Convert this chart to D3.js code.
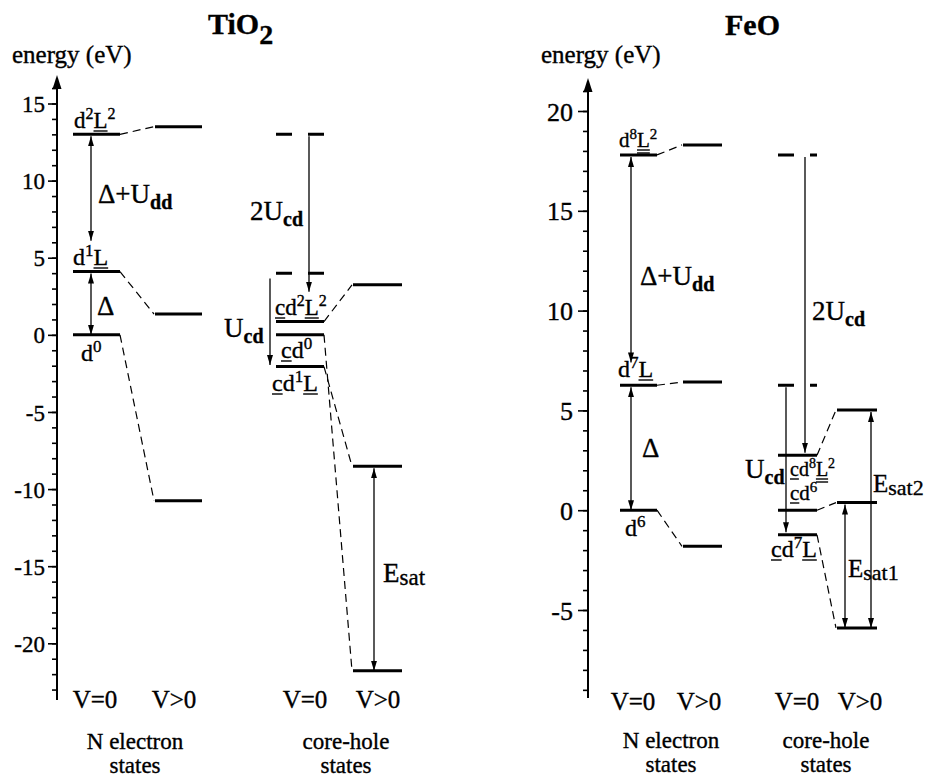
<!DOCTYPE html>
<html>
<head>
<meta charset="utf-8">
<script src="https://cdn.jsdelivr.net/npm/d3@7"></script>
<style>
  body { margin: 0; background: #fff; }
  svg { display: block; }
  text { font-family: "Liberation Serif", "Tinos", "DejaVu Serif", "Noto Serif", serif; fill: #000; stroke: #000; stroke-width: 0.35px; }
</style>
</head>
<body>
<svg id="chart" width="926" height="777"></svg>
<script>
// ---------- TiO2 (energies in eV) ----------
const tiMajorTicks = [-20, -15, -10, -5, 0, 5, 10, 15];
const tiMinorTicks = d3.range(-23, 17);
const tiNeutralV0 = [0, 4.1, 13.0];          // d0, d1L, d2L2
const tiNeutralV  = [-10.75, 1.35, 13.5];    // mixed states, same order
const tiCoreRef   = [4.0, 13.0];             // unhybridised reference levels (dashed)
const tiCoreV0    = [-2.06, 0, 0.86];        // cd1L, cd0, cd2L2
const tiCoreV     = [-8.52, -21.78, 3.24];   // mixed core-hole states, same order
const tiArrowFrom = [13.0, 4.1, 13.0, 3.78, -8.52];
const tiArrowTo   = [6.1, 0, 2.8, -1.95, -21.78];

// ---------- FeO (energies in eV) ----------
const feMajorTicks = [-5, 0, 5, 10, 15, 20];
const feMinorTicks = d3.range(-9, 22);
const feNeutralV0 = [0, 6.26, 17.8];         // d6, d7L, d8L2
const feNeutralV  = [-1.81, 6.42, 18.3];
const feCoreRef   = [6.26, 17.8];
const feCoreV0    = [-1.23, 0, 2.75];        // cd7L, cd6, cd8L2
const feCoreV     = [-5.9, 0.38, 5.02];
const feArrowFrom = [17.8, 6.26, 17.8, 6.26, 0.38, 5.02];
const feArrowTo   = [7.4, 0, 2.88, -1.1, -5.9, -5.9];

const columnLabels = ["V=0", "V>0", "V=0", "V>0"];
const groupLabels = [["N electron", "states"], ["core-hole", "states"]];

const SERIF = "'Liberation Serif', 'Tinos', 'DejaVu Serif', 'Noto Serif', serif";

const svg = d3.select("#chart");
const defs = svg.append("defs");
defs.append("marker")
  .attr("id", "head")
  .attr("viewBox", "0 0 10 6")
  .attr("refX", 10).attr("refY", 3)
  .attr("markerWidth", 10).attr("markerHeight", 6)
  .attr("markerUnits", "userSpaceOnUse")
  .attr("orient", "auto-start-reverse")
  .append("path").attr("d", "M0,0L10,3L0,6Z").attr("fill", "#000");

// Text made of runs; each run may be raised/lowered, bold, and underlined once or twice.
function richText(g, x, y, runs, anchor) {
  const t = g.append("text").attr("x", x).attr("y", y)
    .attr("text-anchor", anchor || "start")
    .style("font-family", SERIF);
  let prevShift = 0;
  runs.forEach(r => {
    const shift = r.shift || 0;
    const ts = t.append("tspan").text(r.t).style("font-size", r.size + "px");
    if (r.bold) ts.style("font-weight", "bold");
    if (shift !== prevShift) ts.attr("dy", shift - prevShift);
    prevShift = shift;
  });
  const node = t.node();
  let idx = 0;
  runs.forEach(r => {
    const n = r.t.length;
    if (r.u) {
      const x0 = node.getStartPositionOfChar(idx).x;
      const x1 = node.getEndPositionOfChar(idx + n - 1).x;
      for (let k = 0; k < r.u; k++) {
        g.append("line")
          .attr("x1", x0).attr("x2", x1)
          .attr("y1", y + 3 + k * 3).attr("y2", y + 3 + k * 3)
          .attr("stroke", "#000").attr("stroke-width", 1.4);
      }
    }
    idx += n;
  });
  return t;
}

function drawPanel(p) {
  const g = svg.append("g");
  const y = d3.scaleLinear().domain(p.domain).range(p.range);

  // title
  richText(g, p.title.x, p.title.y, p.title.runs);
  richText(g, p.axisTitle.x, p.axisTitle.y, [{ t: "energy (eV)", size: 25 }]);

  // energy axis: minor ticks, labelled major ticks, line and arrowhead
  const minor = g.append("g").attr("transform", `translate(${p.axisX},0)`)
    .call(d3.axisLeft(y).tickValues(p.minorTicks).tickSize(5).tickFormat(""));
  const major = g.append("g").attr("transform", `translate(${p.axisX},0)`)
    .call(d3.axisLeft(y).tickValues(p.majorTicks).tickSize(p.majorTickSize)
      .tickPadding(p.tickPadding).tickFormat(d => String(d)));
  [minor, major].forEach(a => {
    a.attr("font-family", null);
    a.select(".domain").remove();
    a.selectAll("line").attr("stroke-width", 1.6);
  });
  major.selectAll("text")
    .style("font-family", SERIF)
    .style("font-size", p.tickFont + "px")
    .attr("dy", "0.35em");
  g.append("line")
    .attr("x1", p.axisX).attr("x2", p.axisX)
    .attr("y1", p.axisBottom).attr("y2", p.axisTop + 10)
    .attr("stroke", "#000").attr("stroke-width", 2);
  g.append("path")
    .attr("d", `M${p.axisX},${p.axisTop}L${p.axisX + 4.5},${p.axisTop + 14}L${p.axisX - 4.5},${p.axisTop + 14}Z`)
    .attr("fill", "#000");

  const c = p.cols;
  const level = (arr, col, dashed) => g.append("g").selectAll("line").data(arr).join("line")
    .attr("x1", col[0]).attr("x2", col[1])
    .attr("y1", d => y(d)).attr("y2", d => y(d))
    .attr("stroke", "#000").attr("stroke-width", 3)
    .attr("stroke-dasharray", dashed ? "16,16" : null);
  const connect = (a, b, colA, colB) => g.append("g").selectAll("line").data(d3.zip(a, b)).join("line")
    .attr("x1", colA[1]).attr("y1", d => y(d[0]))
    .attr("x2", colB[0] - 1).attr("y2", d => y(d[1]))
    .attr("stroke", "#000").attr("stroke-width", 1.2)
    .attr("stroke-dasharray", "8,5");

  level(p.neutralV0, c[0]);
  level(p.neutralV, c[1]);
  level(p.coreRef, c[2], true);
  level(p.coreV0, c[2]);
  level(p.coreV, c[3]);
  connect(p.neutralV0, p.neutralV, c[0], c[1]);
  connect(p.coreV0, p.coreV, c[2], c[3]);

  // energy differences
  g.append("g").selectAll("line").data(d3.zip(p.arrowFrom, p.arrowTo, p.arrowX, p.arrowBoth)).join("line")
    .attr("x1", d => d[2]).attr("x2", d => d[2])
    .attr("y1", d => y(d[0]) + 2).attr("y2", d => y(d[1]))
    .attr("stroke", "#000").attr("stroke-width", 1.3)
    .attr("marker-end", "url(#head)")
    .attr("marker-start", d => d[3] ? "url(#head)" : null);

  p.labels.forEach(l => richText(g, l.x, l.y, l.runs));

  // column and group captions
  columnLabels.forEach((s, i) => richText(g, p.colCenters[i], p.colLabelY, [{ t: s, size: 25 }], "middle"));
  groupLabels.forEach((lines, i) => lines.forEach((s, j) =>
    richText(g, p.groupCenters[i], p.groupY + j * 24, [{ t: s, size: 23 }], "middle")));
}

// label run builders: configuration names with superscripts and under-bars
const cfg = (size, pieces) => pieces.map(([t, kind, u]) =>
  kind === "sup" ? { t, size: Math.round(size * 0.7), shift: -Math.round(size * 0.38) } : { t, size, u });
const big = (t) => ({ t, size: 27 });
const sub = (t, bold) => ({ t, size: bold ? 20 : 23, bold, shift: bold ? 6 : 3 });

drawPanel({
  domain: [-20, 15], range: [643.3, 103.5],
  axisX: 57, axisTop: 75, axisBottom: 700,
  majorTicks: tiMajorTicks, minorTicks: tiMinorTicks,
  majorTickSize: 9, tickPadding: 3, tickFont: 23,
  title: { x: 208, y: 34, runs: [{ t: "TiO", size: 30, bold: true }, { t: "2", size: 28, bold: true, shift: 10 }] },
  axisTitle: { x: 12, y: 63 },
  cols: [[73, 120], [155, 202], [276, 324], [353, 402]],
  neutralV0: tiNeutralV0, neutralV: tiNeutralV,
  coreRef: tiCoreRef, coreV0: tiCoreV0, coreV: tiCoreV,
  arrowFrom: tiArrowFrom, arrowTo: tiArrowTo,
  arrowX: [91, 91, 309, 270, 374], arrowBoth: [1, 1, 0, 0, 1],
  colCenters: [95, 174, 305, 378], colLabelY: 708,
  groupCenters: [135, 346], groupY: 749,
  labels: [
    { x: 74, y: 128, runs: cfg(23, [["d"], ["2", "sup"], ["L", 0, 2], ["2", "sup"]]) },
    { x: 73, y: 265, runs: cfg(24, [["d"], ["1", "sup"], ["L", 0, 1]]) },
    { x: 81, y: 361, runs: cfg(24, [["d"], ["0", "sup"]]) },
    { x: 98, y: 203, runs: [big("Δ+U"), sub("dd", true)] },
    { x: 97, y: 315, runs: [big("Δ")] },
    { x: 250, y: 220, runs: [big("2U"), sub("cd", true)] },
    { x: 224, y: 337, runs: [big("U"), sub("cd", true)] },
    { x: 275, y: 315, runs: cfg(23, [["c", 0, 1], ["d"], ["2", "sup"], ["L", 0, 2], ["2", "sup"]]) },
    { x: 281, y: 358, runs: cfg(24, [["c", 0, 1], ["d"], ["0", "sup"]]) },
    { x: 272, y: 391, runs: cfg(24, [["c", 0, 1], ["d"], ["1", "sup"], ["L", 0, 1]]) },
    { x: 383, y: 582, runs: [big("E"), sub("sat")] }
  ]
});

drawPanel({
  domain: [-5, 20], range: [610, 111],
  axisX: 588, axisTop: 78, axisBottom: 698,
  majorTicks: feMajorTicks, minorTicks: feMinorTicks,
  majorTickSize: 10, tickPadding: 5, tickFont: 26,
  title: { x: 725, y: 35, runs: [{ t: "FeO", size: 30, bold: true }] },
  axisTitle: { x: 541, y: 63 },
  cols: [[620, 657], [683, 722], [778, 817], [837, 877]],
  neutralV0: feNeutralV0, neutralV: feNeutralV,
  coreRef: feCoreRef, coreV0: feCoreV0, coreV: feCoreV,
  arrowFrom: feArrowFrom, arrowTo: feArrowTo,
  arrowX: [631, 631, 805, 786, 845, 871], arrowBoth: [1, 1, 0, 0, 1, 1],
  colCenters: [633, 699, 797, 860], colLabelY: 710,
  groupCenters: [671, 826], groupY: 748,
  labels: [
    { x: 619, y: 147, runs: cfg(21, [["d"], ["8", "sup"], ["L", 0, 2], ["2", "sup"]]) },
    { x: 640, y: 285, runs: [big("Δ+U"), sub("dd", true)] },
    { x: 618, y: 377, runs: cfg(24, [["d"], ["7", "sup"], ["L", 0, 1]]) },
    { x: 642, y: 457, runs: [big("Δ")] },
    { x: 625, y: 536, runs: cfg(24, [["d"], ["6", "sup"]]) },
    { x: 812, y: 320, runs: [big("2U"), sub("cd", true)] },
    { x: 745, y: 478, runs: [big("U"), sub("cd", true)] },
    { x: 790, y: 476, runs: cfg(20, [["c", 0, 1], ["d"], ["8", "sup"], ["L", 0, 2], ["2", "sup"]]) },
    { x: 790, y: 500, runs: cfg(21, [["c", 0, 1], ["d"], ["6", "sup"]]) },
    { x: 771, y: 557, runs: cfg(24, [["c", 0, 1], ["d"], ["7", "sup"], ["L", 0, 1]]) },
    { x: 873, y: 492, runs: [{ t: "E", size: 25 }, { t: "sat2", size: 22, shift: 3 }] },
    { x: 848, y: 577, runs: [{ t: "E", size: 25 }, { t: "sat1", size: 22, shift: 3 }] }
  ]
});
</script>
</body>
</html>
